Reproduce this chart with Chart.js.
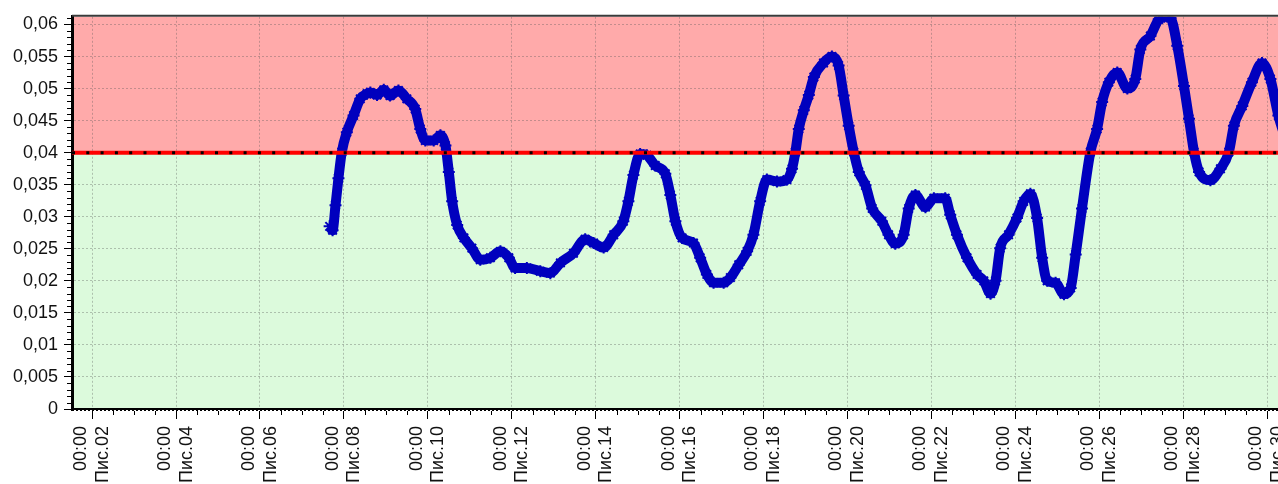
<!DOCTYPE html>
<html>
<head>
<meta charset="utf-8">
<script src="https://cdn.jsdelivr.net/npm/chart.js@4.4.0/dist/chart.umd.min.js"></script>
<style>
  html, body { margin: 0; padding: 0; background: #fff; overflow: hidden; }
  #wrap { width: 1320px; height: 484px; }
</style>
</head>
<body>
<div id="wrap"><canvas id="chart" width="1320" height="484"></canvas></div>
<script>
// measured series (x in days, y in value units)
const xValues = [
  7.66, 7.73, 7.80, 7.87, 7.95, 8.07, 8.23, 8.39, 8.55, 8.63, 8.79, 8.95, 9.10, 9.30, 9.50, 9.70,
  9.82, 9.94, 10.14, 10.30, 10.42, 10.50, 10.58, 10.70, 10.86, 11.05, 11.25, 11.49, 11.73, 11.93,
  12.08, 12.36, 12.68, 12.92, 13.16, 13.47, 13.75, 13.95, 14.19, 14.43, 14.66, 14.78, 14.90, 15.06,
  15.22, 15.42, 15.66, 15.78, 15.90, 16.06, 16.33, 16.49, 16.65, 16.81, 17.05, 17.21, 17.41, 17.61,
  17.76, 17.92, 18.08, 18.32, 18.56, 18.68, 18.76, 18.84, 18.96, 19.08, 19.20, 19.43, 19.63, 19.79,
  19.91, 20.03, 20.15, 20.27, 20.43, 20.59, 20.82, 20.98, 21.14, 21.34, 21.46, 21.62, 21.86, 22.06,
  22.33, 22.45, 22.61, 22.85, 23.09, 23.25, 23.41, 23.53, 23.64, 23.84, 24.04, 24.20, 24.36, 24.52,
  24.64, 24.76, 24.96, 25.16, 25.32, 25.44, 25.59, 25.79, 25.95, 26.07, 26.23, 26.43, 26.67, 26.86,
  26.98, 27.22, 27.42, 27.55, 27.70, 27.86, 28.02, 28.14, 28.26, 28.38, 28.65, 28.89, 29.09, 29.21,
  29.41, 29.64, 29.88, 30.08, 30.27, 30.45
];
const yValues = [
  0.0285, 0.0279, 0.0318, 0.0360, 0.0401, 0.0432, 0.0458, 0.0484, 0.0492, 0.0494, 0.0490, 0.0498, 0.0489, 0.0497, 0.0484, 0.0468,
  0.0437, 0.0419, 0.0419, 0.0427, 0.0411, 0.0370, 0.0324, 0.0287, 0.0267, 0.0251, 0.0233, 0.0236, 0.0246, 0.0236,
  0.0220, 0.0220, 0.0215, 0.0212, 0.0228, 0.0243, 0.0265, 0.0259, 0.0252, 0.0272, 0.0293, 0.0324, 0.0365, 0.0398,
  0.0396, 0.0380, 0.0367, 0.0334, 0.0293, 0.0267, 0.0259, 0.0236, 0.0210, 0.0197, 0.0197, 0.0205, 0.0225, 0.0246,
  0.0272, 0.0324, 0.0358, 0.0355, 0.0358, 0.0375, 0.0401, 0.0437, 0.0466, 0.0490, 0.0518, 0.0540, 0.0550, 0.0536,
  0.0489, 0.0442, 0.0401, 0.0370, 0.0349, 0.0313, 0.0293, 0.0272, 0.0258, 0.0272, 0.0313, 0.0334, 0.0315, 0.0329,
  0.0329, 0.0303, 0.0272, 0.0236, 0.0210, 0.0200, 0.0180, 0.0200, 0.0251, 0.0272, 0.0298, 0.0324, 0.0336, 0.0298,
  0.0236, 0.0200, 0.0197, 0.0179, 0.0189, 0.0241, 0.0313, 0.0401, 0.0437, 0.0479, 0.0510, 0.0525, 0.0500, 0.0515,
  0.0561, 0.0582, 0.0608, 0.0612, 0.0610, 0.0567, 0.0504, 0.0453, 0.0401, 0.0370, 0.0357, 0.0375, 0.0401, 0.0442,
  0.0473, 0.0510, 0.0540, 0.0515, 0.0458, 0.0420
];
const threshold = 0.04;

const xTickValues = [2, 4, 6, 8, 10, 12, 14, 16, 18, 20, 22, 24, 26, 28, 30];
const xTickLabels = ['Пис.02', 'Пис.04', 'Пис.06', 'Пис.08', 'Пис.10', 'Пис.12', 'Пис.14', 'Пис.16',
  'Пис.18', 'Пис.20', 'Пис.22', 'Пис.24', 'Пис.26', 'Пис.28', 'Пис.30'];
const xTickTime = '00:00';
const yTickValues = [0, 0.005, 0.01, 0.015, 0.02, 0.025, 0.03, 0.035, 0.04, 0.045, 0.05, 0.055, 0.06];
const yTickLabels = ['0', '0,005', '0,01', '0,015', '0,02', '0,025', '0,03', '0,035', '0,04', '0,045',
  '0,05', '0,055', '0,06'];

const xMin = 1.52, xMax = 31;
const yMin = 0, yMax = 0.0612;

const FONT = 'Liberation Sans, Arial, sans-serif';

// pink / green zones, minor ticks and top frame
const zonesPlugin = {
  id: 'zones',
  beforeDraw(chart) {
    const { ctx, chartArea: a, scales: { y } } = chart;
    const yt = y.getPixelForValue(threshold);
    ctx.save();
    ctx.fillStyle = '#FFAAAA';
    ctx.fillRect(a.left, a.top, a.width, yt - a.top);
    ctx.fillStyle = '#DCFADC';
    ctx.fillRect(a.left, yt, a.width, a.bottom - yt);
    ctx.restore();
  },
  afterDraw(chart) {
    const { ctx, chartArea: a, scales: { x, y } } = chart;
    ctx.save();
    ctx.strokeStyle = '#000';
    ctx.lineWidth = 1;
    ctx.beginPath();
    for (let v = 2.5; v < xMax; v += 0.5) {
      if (v % 2 === 0) continue;
      const px = Math.round(x.getPixelForValue(v)) + 0.5;
      ctx.moveTo(px, a.bottom);
      ctx.lineTo(px, a.bottom + 6);
    }
    for (let k = 1; k <= 61; k++) {
      if (k % 5 === 0) continue;
      const py = Math.round(y.getPixelForValue(k / 1000)) + 0.5;
      ctx.moveTo(a.left - 5, py);
      ctx.lineTo(a.left, py);
    }
    ctx.stroke();
    // top frame
    ctx.strokeStyle = '#3a3a3a';
    ctx.lineWidth = 2;
    ctx.beginPath();
    ctx.moveTo(a.left, a.top - 1);
    ctx.lineTo(a.right, a.top - 1);
    ctx.stroke();
    // dotted white line inside the bottom frame
    ctx.strokeStyle = '#fff';
    ctx.lineWidth = 1;
    ctx.setLineDash([2, 2]);
    ctx.beginPath();
    ctx.moveTo(a.left + 2, a.bottom + 1.5);
    ctx.lineTo(a.right, a.bottom + 1.5);
    ctx.stroke();
    ctx.restore();
  }
};

const ctx = document.getElementById('chart').getContext('2d');

new Chart(ctx, {
  type: 'line',
  data: {
    datasets: [
      {
        data: [{ x: xMin, y: threshold }, { x: xMax, y: threshold }],
        borderColor: '#000',
        borderWidth: 3,
        borderDash: [3, 11.3],
        pointRadius: 0,
        order: 1,
        clip: 0
      },
      {
        data: [{ x: xMin, y: threshold }, { x: xMax, y: threshold }],
        borderColor: '#FF0000',
        borderWidth: 4,
        pointRadius: 0,
        order: 2,
        clip: 0
      },
      {
        data: xValues.map((v, i) => ({ x: v, y: yValues[i] })),
        borderColor: '#0000BE',
        backgroundColor: '#0000BE',
        borderWidth: 10,
        cubicInterpolationMode: 'monotone',
        pointStyle: 'star',
        pointRadius: 6,
        pointBorderWidth: 2,
        pointBorderColor: '#0000BE',
        order: 3,
        clip: 0
      }
    ]
  },
  options: {
    responsive: false,
    animation: false,
    events: [],
    layout: { padding: { top: 14, right: 11, left: 0, bottom: 0 } },
    plugins: {
      legend: { display: false },
      tooltip: { enabled: false }
    },
    scales: {
      x: {
        type: 'linear',
        min: xMin,
        max: xMax,
        afterFit: (s) => { s.height = 75; },
        afterBuildTicks: (s) => { s.ticks = xTickValues.map(v => ({ value: v })); },
        grid: {
          color: 'rgba(90,90,90,0.36)',
          lineWidth: 1,
          tickLength: 10,
          tickColor: '#000'
        },
        border: { color: '#000', width: 3, dash: [2, 2] },
        ticks: {
          autoSkip: false,
          minRotation: 90,
          maxRotation: 90,
          labelOffset: -11,
          padding: 7,
          color: '#111',
          font: { family: FONT, size: 18 },
          callback: (v) => {
            const i = xTickValues.indexOf(v);
            return i < 0 ? '' : [xTickTime, xTickLabels[i]];
          }
        }
      },
      y: {
        type: 'linear',
        min: yMin,
        max: yMax,
        afterFit: (s) => { s.width = 72; },
        afterBuildTicks: (s) => { s.ticks = yTickValues.map(v => ({ value: v })); },
        grid: {
          color: 'rgba(90,90,90,0.36)',
          lineWidth: 1,
          tickLength: 8,
          tickColor: '#000'
        },
        border: { color: '#000', width: 3, dash: [2, 2] },
        ticks: {
          autoSkip: false,
          padding: 6,
          color: '#111',
          font: { family: FONT, size: 18 },
          callback: (v) => {
            const i = yTickValues.indexOf(v);
            return i < 0 ? '' : yTickLabels[i];
          }
        }
      }
    }
  },
  plugins: [zonesPlugin]
});
</script>
</body>
</html>
